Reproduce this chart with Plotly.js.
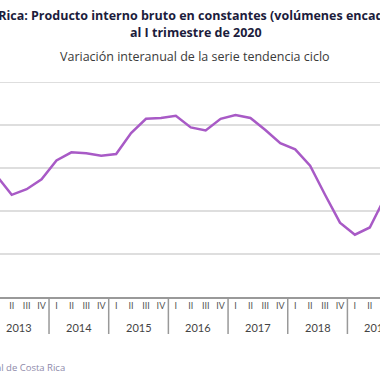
<!DOCTYPE html>
<html>
<head>
<meta charset="utf-8">
<script src="https://cdn.plot.ly/plotly-3.0.1.min.js"></script>
<style>html,body{margin:0;padding:0;background:#fff;}#chart{width:380px;height:380px;}</style>
</head>
<body>
<div id="chart"></div>
<script>
// Data
const years = ["2013", "2014", "2015", "2016", "2017", "2018", "2019"];
const quarterLabels = ["I", "II", "III", "IV"];
const growth = [
  2.82, 2.38, 2.51, 2.74,   // 2013
  3.18, 3.37, 3.35, 3.29,   // 2014
  3.33, 3.82, 4.15, 4.17,   // 2015
  4.22, 3.95, 3.88, 4.15,   // 2016
  4.24, 4.17, 3.89, 3.58,   // 2017
  3.44, 3.06, 2.38, 1.73,   // 2018
  1.45, 1.62, 2.31          // 2019
];
const titleLine1 = "Costa Rica: Producto interno bruto en constantes (volúmenes encadenados)";
const titleLine2 = "al I trimestre de 2020";
const subtitle = "Variación interanual de la serie tendencia ciclo";
const source = "Fuente: Banco Central de Costa Rica";

// Build x positions (quarter index)
const xIdx = growth.map((_, i) => i);
const tickvals = [], ticktext = [];
for (let i = 0; i < years.length * 4; i++) { tickvals.push(i); ticktext.push(quarterLabels[i % 4]); }

const W = 380, H = 380, mt = 75, mb = 83;
const plotH = H - mt - mb;
const axisPix = H - mb;
const py = p => (axisPix - p) / plotH;   // pixel y -> paper y
const px = p => p / W;                   // pixel x -> paper x

const fontFam = "'Open Sans', sans-serif";
const tickFam = "'Lato', 'Open Sans', sans-serif";

const annotations = [];
const shapes = [];
years.forEach((y, k) => {
  annotations.push({xref: 'x', yref: 'paper', x: 4 * k + 1.5, y: py(327), text: y, showarrow: false,
    xanchor: 'center', yanchor: 'middle', font: {family: tickFam, size: 11, color: '#444'}});
  if (k > 0) shapes.push({type: 'line', xref: 'x', yref: 'paper', x0: 4 * k - 0.5, x1: 4 * k - 0.5,
    y0: 0, y1: py(334), line: {color: '#999', width: 1.5}});
});
annotations.push({xref: 'paper', yref: 'paper', x: px(197), y: py(15), text: titleLine1, showarrow: false,
  xanchor: 'center', yanchor: 'middle', font: {family: fontFam, size: 12.5, color: '#1c1c3c', weight: 'bold'}});
annotations.push({xref: 'paper', yref: 'paper', x: px(196), y: py(33), text: titleLine2, showarrow: false,
  xanchor: 'center', yanchor: 'middle', font: {family: fontFam, size: 12.5, color: '#1c1c3c', weight: 'bold'}});
annotations.push({xref: 'paper', yref: 'paper', x: px(195), y: py(57), text: subtitle, showarrow: false,
  xanchor: 'center', yanchor: 'middle', font: {family: fontFam, size: 12.5, color: '#3a3a3a'}});
annotations.push({xref: 'paper', yref: 'paper', x: px(67), y: py(367), text: source, showarrow: false,
  xanchor: 'right', yanchor: 'middle', font: {family: fontFam, size: 9.5, color: '#8e8aaa'}});

const trace = {
  x: xIdx, y: growth, type: 'scatter', mode: 'lines',
  line: {color: '#a85ac6', width: 2.5}, hoverinfo: 'skip', cliponaxis: true
};

const layout = {
  width: W, height: H,
  margin: {l: 0, r: 0, t: mt, b: mb, pad: 0},
  paper_bgcolor: '#fff', plot_bgcolor: '#fff',
  showlegend: false,
  xaxis: {
    range: [3.2 / 14.92, (380 + 3.2) / 14.92],
    tickvals: tickvals, ticktext: ticktext, tickangle: 0,
    tickfont: {family: tickFam, size: 9, color: '#555'},
    showgrid: false, zeroline: false, showline: true, linecolor: '#999', linewidth: 1.5,
    ticks: '', fixedrange: true
  },
  yaxis: {
    range: [0, 5.17], tickvals: [0, 1, 2, 3, 4, 5], showticklabels: false,
    showgrid: true, gridcolor: '#dedede', gridwidth: 1.5, zeroline: false, showline: false, ticks: ''
  },
  annotations: annotations,
  shapes: shapes
};

Plotly.newPlot('chart', [trace], layout, {displayModeBar: false, staticPlot: true});
</script>
</body>
</html>
